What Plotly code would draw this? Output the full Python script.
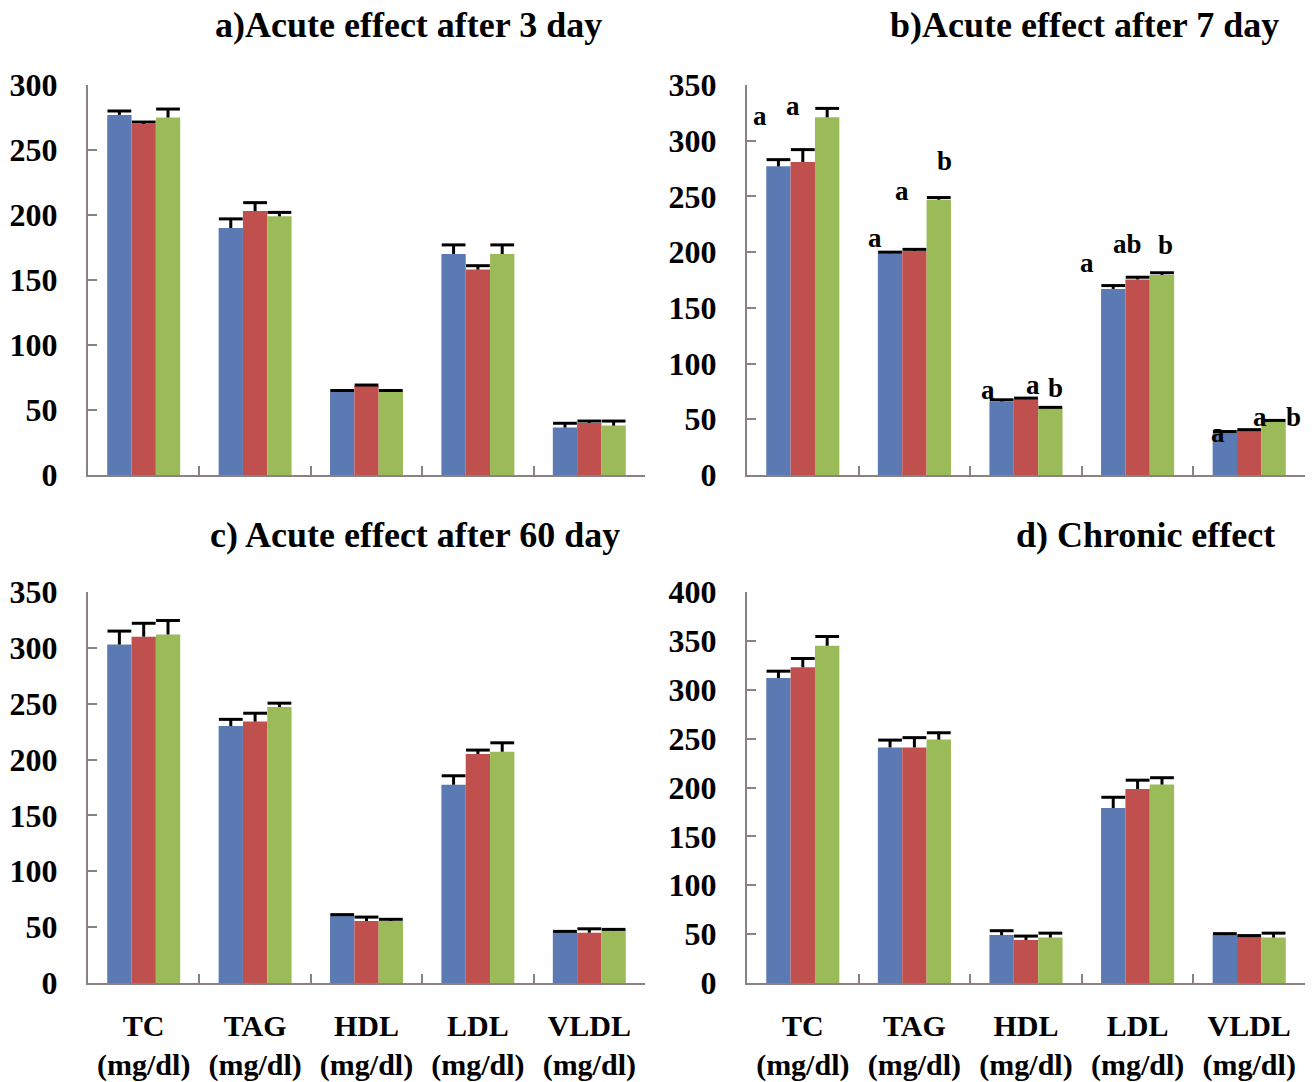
import plotly.graph_objects as go

# ---------------- data ----------------
categories = ["TC", "TAG", "HDL", "LDL", "VLDL"]
tick_labels = ["TC<br>(mg/dl)", "TAG<br>(mg/dl)", "HDL<br>(mg/dl)", "LDL<br>(mg/dl)", "VLDL<br>(mg/dl)"]
series_names = ["Group 1", "Group 2", "Group 3"]

# a) Acute effect after 3 days
a_g1 = [277, 190, 64, 170, 36.5]
a_g1_err = [3, 7, 1, 7, 3.3]
a_g2 = [270, 203, 68.5, 158, 40]
a_g2_err = [1.5, 6.5, 0.7, 3, 1.5]
a_g3 = [275, 199, 64, 170, 38]
a_g3_err = [6.5, 3, 1, 7, 3.5]

# b) Acute effect after 7 days
b_g1 = [277, 199, 66, 167, 38]
b_g1_err = [6, 1, 1.5, 3, 1]
b_g2 = [281, 201, 68, 175.5, 40]
b_g2_err = [11, 1.5, 1, 2, 0.7]
b_g3 = [321, 247, 60, 179.5, 48.5]
b_g3_err = [8, 2, 0.7, 2, 0.5]

# c) Acute effect after 60 days
c_g1 = [303, 230, 60, 177.5, 45.5]
c_g1_err = [12, 6, 1.2, 8, 0.7]
c_g2 = [310, 234, 55.5, 205, 45]
c_g2_err = [12, 7.5, 3.5, 3.5, 3.5]
c_g3 = [312, 247, 55.5, 207, 47]
c_g3_err = [12.5, 3.5, 1.5, 8, 1]

# d) Chronic effect
d_g1 = [312, 241, 49, 179, 49]
d_g1_err = [7, 7.5, 4.5, 11, 1.5]
d_g2 = [323, 241, 44, 198.5, 47]
d_g2_err = [9, 10, 4, 9, 1.5]
d_g3 = [345, 249, 46.5, 203, 46.5]
d_g3_err = [9.5, 7, 4.5, 7, 4.5]

# significance letters in panel b
b_letters = [["a", "a", "b"], ["a", "a", "b"], ["a", "a", "b"], ["a", "ab", "b"], ["a", "a", "b"]]

panel_titles = ["a)Acute effect after 3 day", "b)Acute effect after 7 day",
                "c) Acute effect after 60 day", "d) Chronic effect"]
y_ticks = [[0, 50, 100, 150, 200, 250, 300],
           [0, 50, 100, 150, 200, 250, 300, 350],
           [0, 50, 100, 150, 200, 250, 300, 350],
           [0, 50, 100, 150, 200, 250, 300, 350, 400]]

# ---------------- layout / style ----------------
W, H = 1313, 1082
colors = ["#5B7AB3", "#C0504D", "#9BBB59"]
FONT = "Liberation Serif, Times New Roman, serif"
AXIS_COLOR = "#8a8282"
BARGAP = 0.345

# letter placement (data y, pixel x-shift from category centre)
b_letter_y = [[322, 331, 351], [213, 255, 282], [76, 80.6, 78], [190.7, 207.7, 206], [37.6, 52, 52]]
b_letter_dx = [[-43, -10, 26], [-39, -12, 30], [-38, 7, 29], [-51, -10, 28], [-31, 11, 44]]

def px_x(x):
    return x / W

def px_y(y):
    return 1 - y / H

panels = [
    dict(vals=[a_g1, a_g2, a_g3], errs=[a_g1_err, a_g2_err, a_g3_err],
         xd=[px_x(88), px_x(645)], yd=[px_y(475), px_y(85)], ymax=300, labels=False,
         title_xy=(408, 25)),
    dict(vals=[b_g1, b_g2, b_g3], errs=[b_g1_err, b_g2_err, b_g3_err],
         xd=[px_x(747), px_x(1305)], yd=[px_y(475), px_y(85)], ymax=350, labels=False,
         title_xy=(1084, 25)),
    dict(vals=[c_g1, c_g2, c_g3], errs=[c_g1_err, c_g2_err, c_g3_err],
         xd=[px_x(88), px_x(645)], yd=[px_y(983), px_y(592)], ymax=350, labels=True,
         title_xy=(415, 535)),
    dict(vals=[d_g1, d_g2, d_g3], errs=[d_g1_err, d_g2_err, d_g3_err],
         xd=[px_x(747), px_x(1305)], yd=[px_y(983), px_y(592)], ymax=400, labels=True,
         title_xy=(1145, 535)),
]

fig = go.Figure()
layout = dict(
    width=W, height=H, autosize=False,
    margin=dict(l=0, r=0, t=0, b=0, pad=0, autoexpand=False),
    paper_bgcolor="white", plot_bgcolor="white",
    barmode="group", bargap=BARGAP, bargroupgap=0,
    scattermode="group", scattergap=BARGAP,
    showlegend=False,
    font=dict(family=FONT, color="black"),
)
annotations = []

for i, p in enumerate(panels):
    n = "" if i == 0 else str(i + 1)
    xa, ya = "x" + n, "y" + n
    for s in range(3):
        vals, errs = p["vals"][s], p["errs"][s]
        # bar with the upward error stem (no caps)
        fig.add_trace(go.Bar(
            x=categories, y=vals, name=series_names[s],
            marker=dict(color=colors[s], line=dict(width=0)),
            error_y=dict(type="data", symmetric=False, array=errs,
                         arrayminus=[0] * len(categories),
                         color="black", thickness=3, width=0),
            xaxis=xa, yaxis=ya, offsetgroup=str(s), alignmentgroup="g" + n,
        ))
    for s in range(3):
        vals, errs = p["vals"][s], p["errs"][s]
        # cap at the top of each error bar (T shape)
        fig.add_trace(go.Scatter(
            x=categories, y=[v + e for v, e in zip(vals, errs)], name=series_names[s],
            mode="markers", hoverinfo="skip",
            marker=dict(symbol="line-ew", size=17, color="black",
                        line=dict(color="black", width=3)),
            xaxis=xa, yaxis=ya, offsetgroup=str(s), alignmentgroup="g" + n,
        ))
    layout["xaxis" + n] = dict(
        domain=p["xd"], anchor=ya, type="category", automargin=False,
        categoryorder="array", categoryarray=categories,
        tickmode="array", tickvals=categories, ticktext=tick_labels,
        showticklabels=p["labels"], tickson="boundaries",
        ticks="inside", ticklen=9, tickwidth=2, tickcolor=AXIS_COLOR,
        showline=True, linecolor=AXIS_COLOR, linewidth=2,
        showgrid=False, zeroline=False, ticklabelstandoff=15,
        tickfont=dict(family=FONT, size=30, color="black", weight="bold"),
        fixedrange=True,
    )
    layout["yaxis" + n] = dict(
        domain=p["yd"], anchor=xa, range=[0, p["ymax"]], automargin=False,
        tickmode="array", tickvals=y_ticks[i],
        ticks="inside", ticklen=9, tickwidth=2, tickcolor=AXIS_COLOR,
        showline=True, linecolor=AXIS_COLOR, linewidth=2,
        showgrid=False, zeroline=False, ticklabelstandoff=22,
        tickfont=dict(family=FONT, size=32, color="black", weight="bold"),
        fixedrange=True,
    )
    tx, ty = p["title_xy"]
    annotations.append(dict(
        text=panel_titles[i], xref="paper", yref="paper",
        x=px_x(tx), y=px_y(ty), xanchor="center", yanchor="middle",
        showarrow=False, font=dict(family=FONT, size=36, color="black", weight="bold"),
    ))

# significance letters on panel b
for c, cat in enumerate(categories):
    for s in range(3):
        annotations.append(dict(
            text=b_letters[c][s], xref="x2", yref="y2",
            x=cat, y=b_letter_y[c][s], xshift=b_letter_dx[c][s],
            xanchor="center", yanchor="middle", showarrow=False,
            font=dict(family=FONT, size=27, color="black", weight="bold"),
        ))

layout["annotations"] = annotations
fig.update_layout(**layout)
# remove the default page margin so the figure sits at the window's top-left corner
fig.write_html("out.html",
               config={"displayModeBar": False, "staticPlot": True},
               post_script="document.body.style.margin='0';document.body.style.overflow='hidden';")
